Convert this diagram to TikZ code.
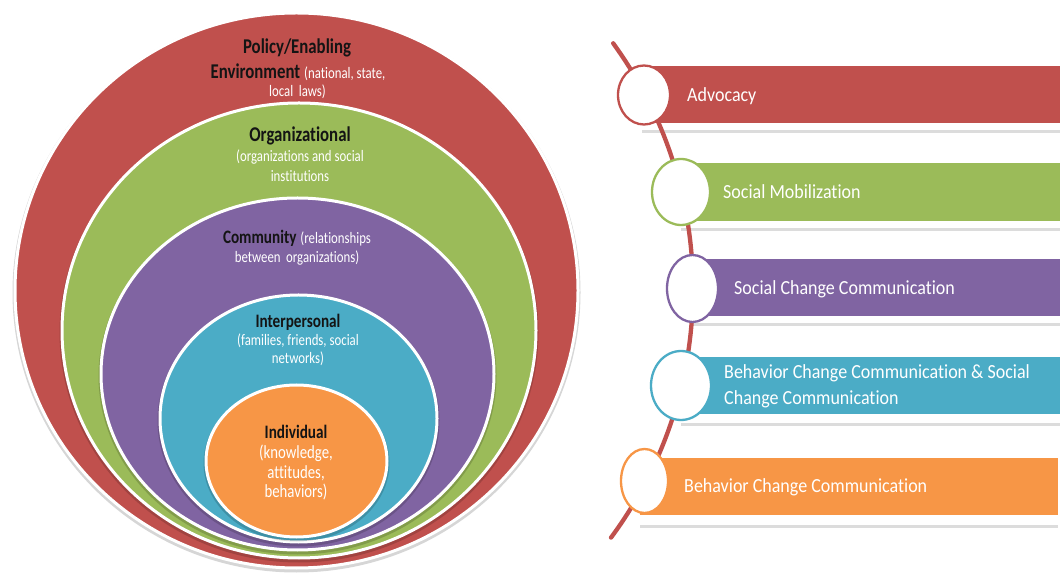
\documentclass[tikz,border=0pt]{standalone}
\usepackage{fontspec}
\setmainfont{Carlito}[Ligatures={NoCommon}]
\newfontfamily\lfont{Carlito}[FakeStretch=0.8, Ligatures={NoCommon}]
\newfontfamily\rfont{Carlito}[FakeStretch=0.9, Ligatures={NoCommon}]
\usetikzlibrary{shapes.geometric,shadows}
\definecolor{cred}{HTML}{C0504D}
\definecolor{cgreen}{HTML}{9BBB59}
\definecolor{cpurple}{HTML}{8064A2}
\definecolor{ccyan}{HTML}{4BACC6}
\definecolor{corange}{HTML}{F79646}
\definecolor{ink}{HTML}{141414}
\newcommand\myfs[1]{\fontsize{#1pt}{#1pt}\selectfont}
\tikzset{
  ring/.style={ellipse, draw=white, line width=3pt, inner sep=0pt, outer sep=0pt},
  halo/.style={fill=black, opacity=0.16},
  head/.style={inner sep=0pt, text=ink, font=\lfont\bfseries},
  sub/.style={inner sep=0pt, text=white, font=\lfont\myfs{16}},
  dot/.style={ellipse, fill=white, line width=2.3pt, inner sep=0pt},
  bartext/.style={inner sep=0pt, text=white, anchor=west, font=\rfont\myfs{20}, align=left},
  strip/.style={fill=white, drop shadow={shadow xshift=0pt, shadow yshift=-3pt, opacity=0.3, fill=black!45}},
  track/.style={cred, line width=4.3pt, line cap=round}
}
\begin{document}
\begin{tikzpicture}[x=1pt,y=1pt]
\useasboundingbox (0,0) rectangle (1060,581);
\fill[white] (0,0) rectangle (1060,581);

% ---- nested ellipses ----
\fill[halo] (296.5,288.5) ellipse (284pt and 280pt);
\node[ring, fill=cred, minimum width=563pt, minimum height=555pt] (policy) at (296.5,290.5) {};
\fill[halo] (299,248.5) ellipse (239.5pt and 230pt);
\node[ring, fill=cgreen, minimum width=474pt, minimum height=455pt] (org) at (299,250.5) {};
\fill[halo] (297.5,205) ellipse (199pt and 178.5pt);
\node[ring, fill=cpurple, minimum width=393pt, minimum height=352pt] (comm) at (297.5,207) {};
\fill[halo] (298.5,160.5) ellipse (141pt and 126pt);
\node[ring, fill=ccyan, minimum width=277pt, minimum height=247pt] (inter) at (298.5,162.5) {};
\fill[halo] (296.5,118) ellipse (93pt and 78.5pt);
\node[ring, fill=corange, minimum width=181pt, minimum height=152pt] (indiv) at (296.5,120) {};

% ---- texts in ellipses ----
\node[head, font=\lfont\bfseries\myfs{21}] (t1) at (297,533) {Policy/Enabling};
\node[head, font=\lfont\bfseries\myfs{21}] (t2) at (298,509) {Environment\hspace{4pt}{\myfs{16}\mdseries\color{white}(national, state,}};
\node[sub] (t3) at (297.5,489) {local\, laws)};
\node[head, font=\lfont\bfseries\myfs{21}] (t4) at (300,445) {Organizational};
\node[sub] (t5) at (300,424) {(organizations and social};
\node[sub] (t6) at (300,405) {institutions};
\node[head, font=\lfont\bfseries\myfs{19}] (t7) at (297,343) {Community\hspace{4pt}{\myfs{16}\mdseries\color{white}(relationships}};
\node[sub] (t8) at (297,323) {between\, organizations)};
\node[head, font=\lfont\bfseries\myfs{19}] (t9) at (298,259) {Interpersonal};
\node[sub] (t10) at (298,240) {(families, friends, social};
\node[sub] (t11) at (298,222) {networks)};
\node[head, font=\lfont\bfseries\myfs{19}] (t12) at (296,149) {Individual};
\node[sub, font=\lfont\myfs{18.5}] (t13) at (296,128) {(knowledge,};
\node[sub, font=\lfont\myfs{18.5}] (t14) at (296,108) {attitudes,};
\node[sub, font=\lfont\myfs{18.5}] (t15) at (296,89) {behaviors)};

% ---- bars ----
\path[strip] (642,451) rectangle (1060,515);
\fill[cred] (642,458) rectangle (1060,515);
\path[strip] (681,353) rectangle (1060,418);
\fill[cgreen] (681,360) rectangle (1060,418);
\path[strip] (692,258) rectangle (1060,322);
\fill[cpurple] (692,265) rectangle (1060,322);
\path[strip] (681,158) rectangle (1060,224);
\fill[ccyan] (681,167) rectangle (1060,224);
\path[strip] (640,56) rectangle (1058,123);
\fill[corange] (640,66) rectangle (1058,123);

% ---- track ----
\coordinate (arcc) at (275,292);
\draw[track] (arcc) ++(36:418) arc[start angle=36, end angle=-36.5, radius=418];

% ---- circles on track ----
\node[dot, draw=cred, minimum width=52pt, minimum height=59pt] (d1) at (644,486) {};
\node[dot, draw=cgreen, minimum width=58pt, minimum height=66pt] (d2) at (681,389) {};
\node[dot, draw=cpurple, minimum width=51pt, minimum height=67pt] (d3) at (692.5,292.5) {};
\node[dot, draw=ccyan, minimum width=60pt, minimum height=69pt] (d4) at (681,195.5) {};
\node[dot, draw=corange, minimum width=47pt, minimum height=64pt] (d5) at (644.5,100) {};

% ---- bar texts ----
\node[bartext] (l1) at (687,485) {Advocacy};
\node[bartext] (l2) at (723,389) {Social Mobilization};
\node[bartext] (l3) at (734,292) {Social Change Communication};
\node[bartext, font=\rfont\fontsize{20pt}{26pt}\selectfont] (l4) at (724,195) {Behavior Change Communication \& Social\\Change Communication};
\node[bartext] (l5) at (684,94) {Behavior Change Communication};
\end{tikzpicture}
\end{document}
